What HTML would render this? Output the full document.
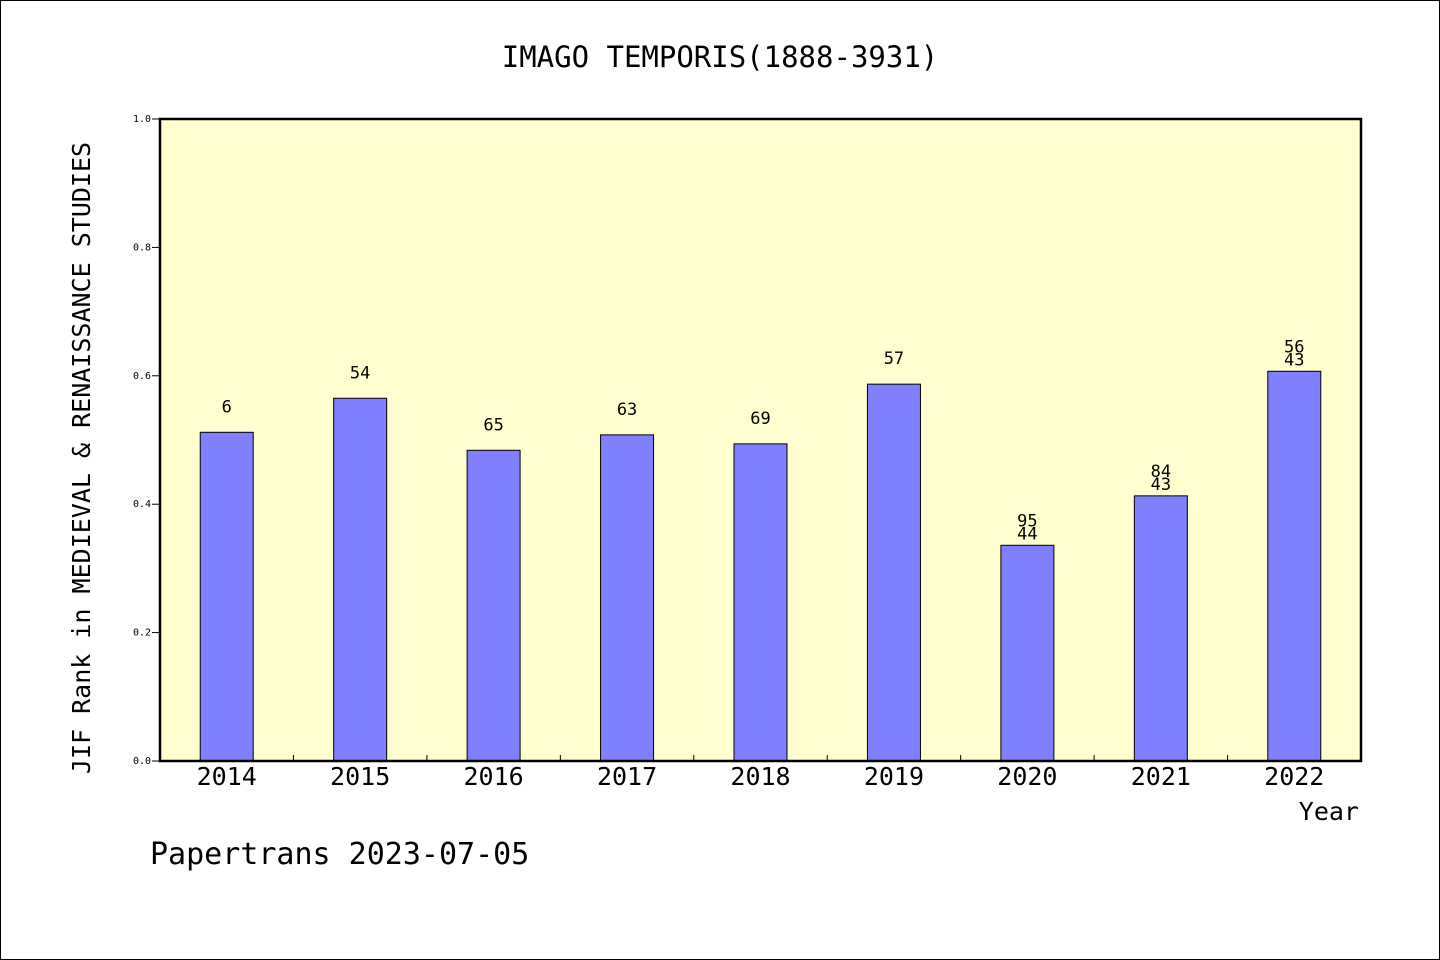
<!DOCTYPE html>
<html><head><meta charset="utf-8"><style>
body{margin:0;background:#fff;}
svg{display:block;font-family:"WenQuanYi Zen Hei Mono","WenQuanYi Zen Hei","DejaVu Sans Mono",monospace;}
</style></head><body>
<svg id="chart" width="1440" height="960">
<rect x="0.5" y="0.5" width="1439" height="959" fill="#fff" stroke="#000"/>
<text x="720" y="67" font-size="29" text-anchor="middle">IMAGO TEMPORIS(1888-3931)</text>
<rect x="160" y="119" width="1201" height="642" fill="#ffffd0"/>
<g id="bars"></g>
<g id="axes"></g>
<rect x="160" y="119" width="1201" height="642" fill="none" stroke="#000" stroke-width="2.5"/>
<text transform="translate(90,458) rotate(-90)" font-size="25" text-anchor="middle">JIF Rank in MEDIEVAL &amp; RENAISSANCE STUDIES</text>
<text x="1359" y="820" font-size="25" text-anchor="end">Year</text>
<text x="150" y="864" font-size="30">Papertrans 2023-07-05</text>
</svg>
<script>
const categories=["2014","2015","2016","2017","2018","2019","2020","2021","2022"];
const values=[0.512,0.565,0.484,0.508,0.494,0.587,0.336,0.413,0.607];
const labelTop=["6","54","65","63","69","57","95","84","56"];
const labelBottom=["","","","","","","44","43","43"];
const yTicks=[0,0.2,0.4,0.6,0.8,1.0];
const NS="http://www.w3.org/2000/svg";
const X0=160,X1=1361,Y0=761,Y1=119;
const bw=(X1-X0)/categories.length;
const y=v=>Y0-(v)*(Y0-Y1);
const xc=i=>X0+bw*(i+0.5);
function mk(t,a,p){const e=document.createElementNS(NS,t);for(const k in a)e.setAttribute(k,a[k]);p.appendChild(e);return e;}
const bars=document.getElementById('bars'),axes=document.getElementById('axes');
categories.forEach((c,i)=>{
  const r=mk('rect',{x:xc(i)-26.5,y:y(values[i]),width:53,height:Y0-y(values[i]),fill:'#8080ff',stroke:'#000','stroke-width':1},bars);
  
  
  const top=y(values[i]);
  if(labelBottom[i]){
    const t1=mk('text',{x:xc(i),y:top-19,'font-size':17,'text-anchor':'middle'},bars);t1.textContent=labelTop[i];
    
    
    const t2=mk('text',{x:xc(i),y:top-6,'font-size':17,'text-anchor':'middle'},bars);t2.textContent=labelBottom[i];
    
    
  }else{
    const t1=mk('text',{x:xc(i),y:top-20,'font-size':17,'text-anchor':'middle'},bars);t1.textContent=labelTop[i];
    
    
  }
  const xl=mk('text',{x:xc(i),y:785,'font-size':25,'text-anchor':'middle'},axes);xl.textContent=c;
  
  
  if(i>0){const tk=mk('line',{x1:X0+bw*i,x2:X0+bw*i,y1:Y0,y2:Y0-6,stroke:'#000'},axes);
    
    }
});
yTicks.forEach(v=>{
  const tk=mk('line',{x1:X0-8,x2:X0,y1:y(v),y2:y(v),stroke:'#000'},axes);
  
  
  const tl=mk('text',{x:X0-9,y:y(v)+3,'font-size':10,'text-anchor':'end'},axes);tl.textContent=v.toFixed(1);
  
  
});
</script>
</body></html>
